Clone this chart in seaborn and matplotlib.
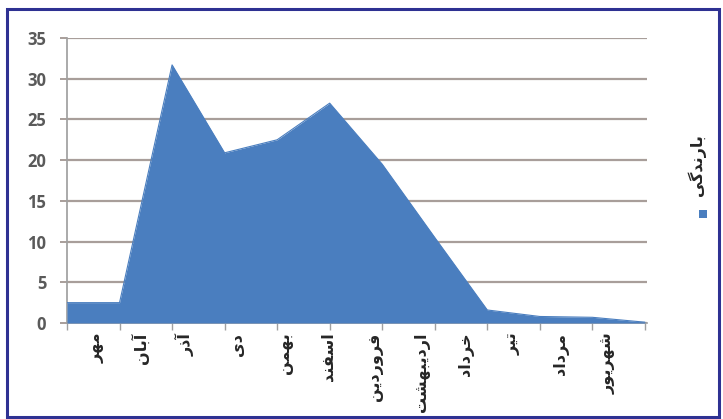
import numpy as np
import pandas as pd
import matplotlib
matplotlib.use("Agg")
import matplotlib.pyplot as plt
import seaborn as sns
from matplotlib.patches import Rectangle

# data (rainfall per month)
months = ["مهر", "آبان", "آذر", "دی", "بهمن", "اسفند",
          "فروردین", "اردیبهشت", "خرداد", "تیر", "مرداد", "شهریور"]
rain = [2.5, 2.5, 31.7, 20.9, 22.5, 27.0, 19.5, 10.5, 1.6, 0.8, 0.7, 0.1]
yticks = [0, 5, 10, 15, 20, 25, 30, 35]
series_name = "بارندگی"

# matplotlib has no arabic shaping, so pick presentation forms by hand
RIGHT = {"ا": "\uFE8D\uFE8E", "آ": "\uFE81\uFE82", "د": "\uFEA9\uFEAA",
         "ذ": "\uFEAB\uFEAC", "ر": "\uFEAD\uFEAE", "ز": "\uFEAF\uFEB0",
         "و": "\uFEED\uFEEE"}
DUAL = {"ب": "\uFE8F\uFE90\uFE91\uFE92", "ت": "\uFE95\uFE96\uFE97\uFE98",
        "خ": "\uFEA5\uFEA6\uFEA7\uFEA8", "س": "\uFEB1\uFEB2\uFEB3\uFEB4",
        "ش": "\uFEB5\uFEB6\uFEB7\uFEB8", "ف": "\uFED1\uFED2\uFED3\uFED4",
        "م": "\uFEE1\uFEE2\uFEE3\uFEE4", "ن": "\uFEE5\uFEE6\uFEE7\uFEE8",
        "ه": "\uFEE9\uFEEA\uFEEB\uFEEC", "ی": "\uFBFC\uFBFD\uFBFE\uFBFF",
        "گ": "\uFB92\uFB93\uFB94\uFB95"}


def shape(word):
    out = []
    for i, ch in enumerate(word):
        prev_j = i > 0 and word[i - 1] in DUAL
        if ch in RIGHT:
            out.append(RIGHT[ch][1 if prev_j else 0])
        elif ch in DUAL:
            next_j = i + 1 < len(word) and (word[i + 1] in DUAL or word[i + 1] in RIGHT)
            idx = {(False, False): 0, (True, False): 1, (False, True): 2, (True, True): 3}[(prev_j, next_j)]
            out.append(DUAL[ch][idx])
        else:
            out.append(ch)
    return "".join(reversed(out))


df = pd.DataFrame({"x": np.arange(len(rain)), "rain": rain})

sns.set_theme(style="white")
plt.rcParams["font.family"] = ["DejaVu Sans"]

fig = plt.figure(figsize=(7.23, 4.19), dpi=100)
ax = fig.add_axes([67 / 723, 1 - 323 / 419, 580 / 723, 285 / 419])

blue = "#4a7ebf"
ax.fill_between(df["x"], df["rain"], 0, color=blue, lw=0, zorder=3)
sns.lineplot(data=df, x="x", y="rain", color=blue, lw=0.8, ax=ax, zorder=3)

ax.set_xlim(0, 11.04)
ax.set_ylim(0, 35)
ax.set_yticks(yticks)
ax.set_yticklabels([str(v) for v in yticks], fontsize=12, fontweight="bold",
                   color="#5a5a5a", family=["Open Sans", "DejaVu Sans"])
ax.yaxis.grid(True, color="#a89e9a", lw=1.6, zorder=1)
ax.set_axisbelow(True)

# tick marks on data points, month names placed between them
ax.set_xticks(df["x"])
ax.set_xticklabels([])
lab_pos = [0.57, 1.39, 2.25, 3.24, 4.15, 4.97, 5.87, 6.76, 7.59, 8.5, 9.4, 10.3]
ax.set_xticks(lab_pos, minor=True)
ax.set_xticklabels([shape(m) for m in months], minor=True, rotation=90,
                   fontsize=11.5, fontweight="bold", va="top")
ax.tick_params(axis="x", which="major", bottom=True, length=5, width=1, color="#a0a0a0")
ax.tick_params(axis="x", which="minor", bottom=False, length=0, pad=7)
ax.tick_params(axis="y", left=True, length=5, width=1.4, color="#a89e9a", pad=10)

ax.set_xlabel("")
ax.set_ylabel("")
for side in ["top", "right"]:
    ax.spines[side].set_visible(False)
ax.spines["left"].set_color("#a0a0a0")
ax.spines["bottom"].set_color("#a0a0a0")

# legend on the right: rotated name and a small square
fig.text(697 / 723, 1 - 165 / 419, shape(series_name), rotation=90, ha="center", va="center",
         fontsize=11.5, fontweight="bold")
fig.add_artist(Rectangle((699 / 723, 1 - 218 / 419), 8 / 723, 8 / 419,
                         transform=fig.transFigure, color=blue, lw=0))

# dark blue frame
fig.add_artist(Rectangle((7 / 723, 2 / 419), 712 / 723, 408 / 419, transform=fig.transFigure,
                         fill=False, ec="#2e3192", lw=2.2))

fig.savefig("out.png", dpi=100)
